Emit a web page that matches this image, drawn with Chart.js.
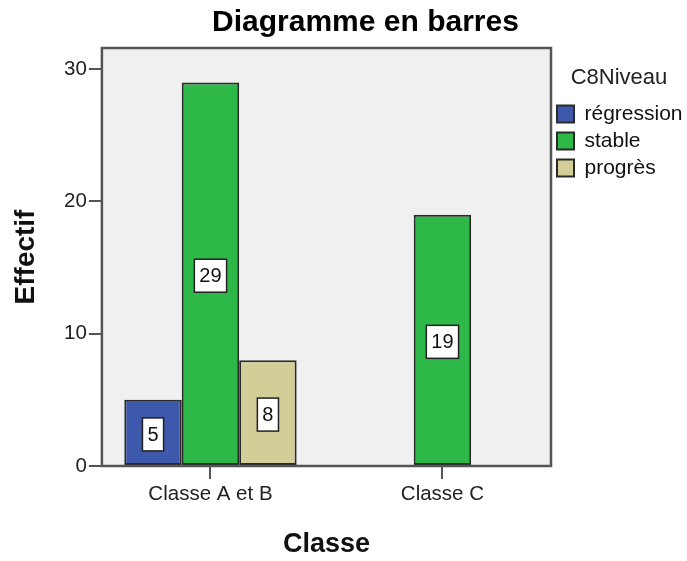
<!DOCTYPE html>
<html>
<head>
<meta charset="utf-8">
<script src="https://cdn.jsdelivr.net/npm/chart.js"></script>
<style>
  body { margin: 0; background: #fff; }
  #wrap { width: 687px; height: 561px; }
</style>
</head>
<body>
<div id="wrap"><canvas id="bars"></canvas></div>
<script>
const chartTitle = "Diagramme en barres";
const categories = ["Classe A et B", "Classe C"];
const seriesNames = ["régression", "stable", "progrès"];
const regression = [5, null];
const stable = [29, 19];
const progres = [8, null];

const FONT = '"Liberation Sans", Arial, sans-serif';

function toPoints(values) {
  return values.map((v, i) => ({ x: i, y: v }));
}

// gray plot background, boxed value labels, frame and title
const plotFrame = {
  id: "plotFrame",
  beforeDatasetsDraw(chart) {
    const { ctx, chartArea: a } = chart;
    ctx.save();
    ctx.fillStyle = "#f0f0f0";
    ctx.fillRect(a.left, a.top, a.width, a.height);
    ctx.restore();
  },
  afterDatasetsDraw(chart) {
    const { ctx, chartArea: a } = chart;
    ctx.save();
    ctx.font = "20px " + FONT;
    ctx.textAlign = "center";
    ctx.textBaseline = "middle";
    chart.data.datasets.forEach((ds, di) => {
      chart.getDatasetMeta(di).data.forEach((bar, i) => {
        const v = ds.data[i].y;
        if (v == null) return;
        const txt = String(v);
        const cy = (bar.y + bar.base) / 2 + 2;
        const w = ctx.measureText(txt).width + 10;
        const h = 33;
        ctx.fillStyle = "#fff";
        ctx.fillRect(bar.x - w / 2, cy - h / 2, w, h);
        ctx.strokeStyle = "#222";
        ctx.lineWidth = 1.5;
        ctx.strokeRect(bar.x - w / 2, cy - h / 2, w, h);
        ctx.fillStyle = "#111";
        ctx.fillText(txt, bar.x, cy + 1);
      });
    });
    ctx.strokeStyle = "#555";
    ctx.lineWidth = 2.5;
    ctx.strokeRect(a.left, a.top, a.width, a.height);
    ctx.font = "bold 30px " + FONT;
    ctx.fillStyle = "#000";
    ctx.fillText(chartTitle, (a.left + a.right) / 2 + 39, 23);
    ctx.restore();
  }
};

new Chart(document.getElementById("bars"), {
  type: "bar",
  data: {
    datasets: [
      { label: seriesNames[0], data: toPoints(regression), backgroundColor: "#3e58ac" },
      { label: seriesNames[1], data: toPoints(stable), backgroundColor: "#2eb848" },
      { label: seriesNames[2], data: toPoints(progres), backgroundColor: "#d3ce97" },
    ],
  },
  options: {
    responsive: true,
    maintainAspectRatio: false,
    animation: false,
    layout: { padding: { top: 48, left: 0, right: 0, bottom: 0 } },
    datasets: {
      bar: {
        categoryPercentage: 0.743,
        barPercentage: 1,
        borderColor: "#2a2a2a",
        borderWidth: 2,
        borderSkipped: false,
      },
    },
    scales: {
      x: {
        type: "linear",
        min: -0.468,
        max: 1.468,
        offset: false,
        grid: { offset: false, drawOnChartArea: false, tickLength: 13, color: "#555", lineWidth: 2 },
        border: { display: false },
        ticks: {
          stepSize: 1,
          includeBounds: false,
          autoSkip: false,
          maxRotation: 0,
          padding: 3,
          color: "#222",
          font: { family: FONT, size: 20.5 },
          callback: (v) => categories[v] ?? "",
        },
        title: {
          display: true,
          text: "Classe",
          color: "#111",
          font: { family: FONT, size: 27, weight: "bold" },
          padding: { top: 19, bottom: 0 },
        },
      },
      y: {
        min: 0,
        max: 31.6,
        grid: { drawOnChartArea: false, tickLength: 13, color: "#555", lineWidth: 2 },
        border: { display: false },
        ticks: {
          stepSize: 10,
          includeBounds: false,
          padding: 2,
          color: "#222",
          font: { family: FONT, size: 20.5 },
        },
        title: {
          display: true,
          text: "Effectif",
          color: "#111",
          font: { family: FONT, size: 28, weight: "bold" },
          padding: { top: 9, bottom: 19.5 },
        },
      },
    },
    plugins: {
      legend: {
        position: "right",
        align: "start",
        maxWidth: 136,
        title: {
          display: true,
          text: "C8Niveau",
          color: "#222",
          font: { family: FONT, size: 22 },
          padding: { top: 19, bottom: 4 },
        },
        labels: {
          boxWidth: 17,
          boxHeight: 17,
          padding: 6,
          color: "#111",
          font: { family: FONT, size: 21 },
        },
      },
      tooltip: { enabled: false },
    },
  },
  plugins: [plotFrame],
});
</script>
</body>
</html>
